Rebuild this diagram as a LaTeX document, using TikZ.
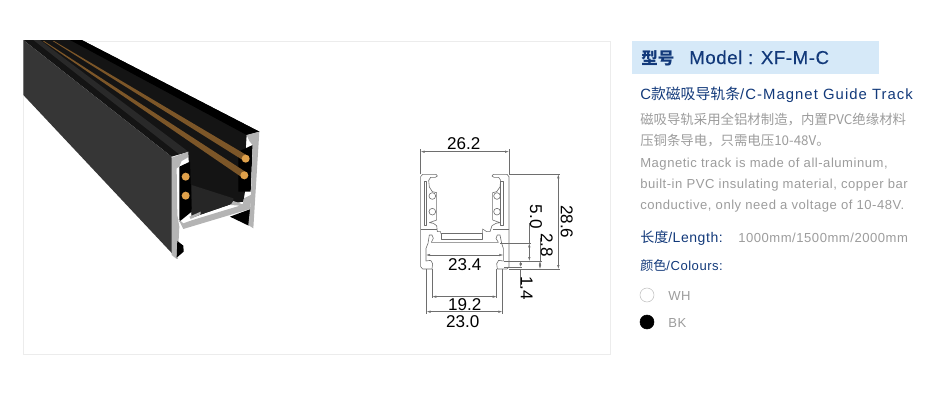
\documentclass[tikz,border=0pt]{standalone}
\usepackage{fontspec}
\usepackage{xcolor}
\setmainfont{Liberation Sans}
\newfontfamily\cjk{Noto Sans CJK SC}
\newfontfamily\bodyfont[LetterSpace=4]{Liberation Sans}
\newfontfamily\titlefont[LetterSpace=7]{Liberation Sans}
\newfontfamily\headfont[LetterSpace=3,FakeBold=0.3]{Liberation Sans}
\usetikzlibrary{arrows.meta,positioning}

\definecolor{barblue}{HTML}{D6E9F8}
\definecolor{navy}{HTML}{12397A}
\definecolor{greytext}{HTML}{9C9C9C}
\definecolor{framegrey}{HTML}{ECECEC}
\definecolor{silver}{HTML}{B4B4B4}
\definecolor{copperbar}{HTML}{7C5628}
\definecolor{copperpin}{HTML}{DFA04A}
\definecolor{lineink}{HTML}{6E6E6E}
\definecolor{facemid}{HTML}{363636}

\tikzset{
    dimlabel/.style={font=\fontsize{12.8pt}{14pt}\selectfont, text=black, inner sep=0pt},
    bodyline/.style={anchor=base west, inner sep=0pt, text=greytext, font=\fontsize{9.8pt}{12pt}\bodyfont},
    navyline/.style={anchor=base west, inner sep=0pt, text=navy, font=\fontsize{10pt}{12pt}\bodyfont},
    dimline/.style={draw=lineink, line width=0.35pt, {Latex[length=3pt,width=1.8pt]}-{Latex[length=3pt,width=1.8pt]}},
    extline/.style={draw=lineink, line width=0.35pt},
    profile/.style={draw=lineink, line width=0.45pt, line join=round}
}

\begin{document}
\begin{tikzpicture}[x=0.75pt, y=-0.75pt]
    \useasboundingbox (0,0) rectangle (933,400);
    \draw [framegrey, line width=0.6pt] (23.5,41) rectangle (610,354);

    % track, in the units of a 3x crop
    \begin{scope}[shift={(20,35)}, scale=1/3]
        \fill [black!92] (10,15) -- (185,15) -- (718,290) -- (680,300) -- (670,450) -- (510,420) -- (505,350) -- (455,365) -- cycle;
        \fill [black!84] (40,15) -- (60,15) -- (505,350) -- (478,358) -- cycle;
        \fill [black] (150,15) -- (185,15) -- (718,290) -- (680,300) -- cycle;
        \fill [facemid] (10,15) -- (455,365) -- (472,672) -- (10,180) -- cycle;
        % inside
        \fill [black!92] (505,350) -- (680,440) -- (670,500) -- (640,505) -- (515,548) -- cycle;
        \fill [black!85] (515,450) -- (640,490) -- (640,505) -- (515,548) -- cycle;
        \fill [black] (478,395) -- (510,380) -- (515,530) -- (478,560) -- cycle;
        \fill [black] (655,350) -- (698,330) -- (692,470) -- (655,470) -- cycle;
        \fill [black] (630,545) -- (692,522) -- (686,572) -- cycle;
        % copper bars
        \fill [copperbar] (98,18) -- (102,18) -- (686,364) -- (676,380) -- cycle;
        \fill [copperbar] (68,18) -- (72,18) -- (682,414) -- (670,430) -- cycle;
        \fill [copperpin] (677,371) circle (12);
        \fill [copperpin] (673,421) circle (12);
        \fill [copperpin] (497,425) circle (12);
        \fill [copperpin] (497,482) circle (12);
        % cut end
        \fill [silver] (455,368) -- (505,350) -- (503,368) -- (485,378) -- (478,395) -- (470,400) -- (472,540)
            -- (478,575) -- (476,615) -- (470,672) -- (455,660) -- cycle;
        \fill [black] (472,618) -- (490,632) -- (491,650) -- (470,668) -- cycle;
        \fill [silver] (475,552) -- (490,582) -- (690,522) -- (696,478) -- (672,490) -- (668,508) -- (640,498)
            -- (632,510) -- (660,512) -- (600,530) -- (515,556) -- (490,565) -- cycle;
        \fill [silver] (508,545) -- (542,530) -- (542,538) -- (512,552) -- cycle;
        \fill [silver] (680,300) -- (718,290) -- (700,580) -- (685,570) -- (692,505) -- (698,330) -- (688,318) -- cycle;
    \end{scope}

    % section drawing, in the units of a 3x crop
    \begin{scope}[shift={(400,125)}, scale=1/3]
        \draw [profile] (62,155) -- (68,148) -- (108,148) -- (112,153) -- (106,157) -- (92,157) -- (86,166) -- (88,186)
            -- (97,200) -- (110,203) -- (110,285) -- (88,293) -- (100,295) -- (110,302) -- (112,320) -- (122,320) -- (122,325)
            -- (248,325) -- (248,312) -- (260,320) -- (270,320) -- (276,302) -- (288,295) -- (300,293) -- (278,285) -- (278,203)
            -- (290,200) -- (300,186) -- (302,166) -- (296,157) -- (282,157) -- (276,153) -- (280,148) -- (321,148) -- (327,155)
            -- (327,425) -- (321,432) -- (292,432) -- (290,416) -- (296,406) -- (310,408) -- (310,370) -- (305,355) -- (300,330)
            -- (292,330) -- (288,340) -- (295,352) -- (94,352) -- (100,340) -- (96,330) -- (88,330) -- (84,355) -- (78,370)
            -- (78,408) -- (92,406) -- (98,416) -- (96,432) -- (68,432) -- (62,425) -- cycle;
        \draw [profile] (72,170) rectangle (80,300);
        \draw [profile] (302,170) rectangle (310,300);
        \draw [profile] (62,312) -- (110,312);
        \draw [profile] (278,312) -- (327,312);
        \draw [profile] (125,325) rectangle (248,342);
        \draw [profile] (97,213) circle (10);
        \draw [profile] (97,260) circle (10);
        \draw [profile] (291,213) circle (10);
        \draw [profile] (291,260) circle (10);
        % extension lines
        \draw [extline] (62,148) -- (62,72);
        \draw [extline] (327,148) -- (327,72);
        \draw [extline] (327,148) -- (480,148);
        \draw [extline] (327,432) -- (480,432);
        \draw [extline] (300,355) -- (392,355);
        \draw [extline] (312,408) -- (425,408);
        \draw [extline] (312,426) -- (366,426);
        \draw [extline] (388,295) -- (388,355);
        \draw [extline] (420,340) -- (420,408);
        \draw [extline] (362,432) -- (362,490);
        \draw [extline] (80,432) -- (80,568);
        \draw [extline] (307,432) -- (307,568);
        \draw [extline] (97,432) -- (97,520);
        \draw [extline] (290,432) -- (290,520);
        % dimension lines
        \draw [dimline] (62,80) -- (327,80);
        \draw [dimline] (475,148) -- (475,432);
        \draw [dimline] (388,355) -- (388,408);
        \draw [dimline] (420,408) -- (420,432);
        \draw [dimline] (362,408) -- (362,426);
        \draw [dimline] (78,390) -- (310,390);
        \draw [dimline] (97,515) -- (290,515);
        \draw [dimline] (80,560) -- (307,560);
        \node [dimlabel] (w262) at (191,56) {26.2};
        \node [dimlabel, rotate=-90] (h286) at (500,290) {28.6};
        \node [dimlabel, rotate=-90] (h50) at (408,275) {5.0};
        \node [dimlabel, rotate=-90] (h28) at (440,360) {2.8};
        \node [dimlabel, rotate=-90] (h14) at (380,490) {1.4};
        \node [dimlabel] (w234) at (194,418) {23.4};
        \node [dimlabel] (w192) at (194,538) {19.2};
        \node [dimlabel] (w230) at (188,590) {23.0};
    \end{scope}

    % right column
    \fill [barblue] (632,41) rectangle (879,74);
    \node [anchor=base west, inner sep=0pt, text=navy, font=\fontsize{12.4pt}{14pt}\cjk\bfseries] (modelcn) at (641,64) {型号};
    \node [anchor=base west, inner sep=0pt, text=navy, font=\fontsize{14pt}{14pt}\headfont] (model) at (689,64) {Model : XF-M-C};
    \node [navyline, font=\fontsize{11.15pt}{12pt}\titlefont] (title) at (640,99) {C{\cjk 款磁吸导轨条}/C-Magnet Guide Track};
    \node [bodyline, font=\fontsize{10.05pt}{12pt}\cjk] (cn1) at (640,124) {磁吸导轨采用全铝材制造，内置PVC绝缘材料};
    \node [bodyline, font=\fontsize{10.05pt}{12pt}\cjk] (cn2) at (640,145) {压铜条导电，只需电压10-48V。};
    \node [bodyline] (en1) at (640,167) {Magnetic track is made of all-aluminum,};
    \node [bodyline] (en2) at (640,188.5) {built-in PVC insulating material, copper bar};
    \node [bodyline] (en3) at (640,209) {conductive, only need a voltage of 10-48V.};
    \node [navyline, font=\fontsize{10.5pt}{12pt}\bodyfont] (length) at (640,242) {{\cjk 长度}/Length:};
    \node [bodyline] (lengthval) at (738,242) {1000mm/1500mm/2000mm};
    \node [navyline, font=\fontsize{9.8pt}{12pt}\bodyfont] (colours) at (640,270) {{\cjk 颜色}/Colours:};
    \node [draw=black!25, fill=white, circle, inner sep=0pt, minimum size=10.5pt] (whdot) at (647,295) {};
    \node [draw=black, fill=black, circle, inner sep=0pt, minimum size=10.5pt] (bkdot) at (647,322) {};
    \node [bodyline] (wh) at (668,300) {WH};
    \node [bodyline] (bk) at (668,327) {BK};
\end{tikzpicture}
\end{document}
